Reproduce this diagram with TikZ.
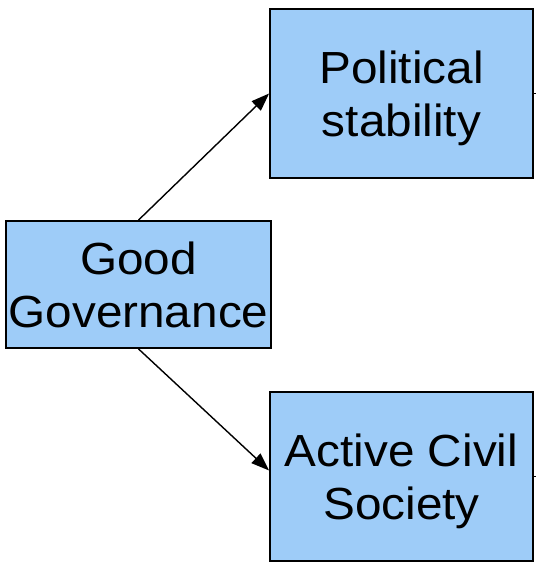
\documentclass[tikz,border=0pt]{standalone}
\usepackage{fontspec}
\setmainfont[FakeStretch=1.06]{Liberation Sans}
\usetikzlibrary{arrows.meta,calc}
\definecolor{boxblue}{RGB}{158,204,248}
\begin{document}
\begin{tikzpicture}[x=1pt,y=-1pt,
  box/.style={draw=black,line width=1.8pt,fill=boxblue,inner sep=0pt,align=center,
    text depth=0pt,font=\fontsize{45}{53}\selectfont},
  arr/.style={line width=1.4pt,-{Triangle[length=18pt,width=13pt]}},
  stub/.style={line width=1.4pt}]
\useasboundingbox (0,0) rectangle (536,562);
\node[box,minimum width=263pt,minimum height=169pt] (ps) at (401.5,93.5) {Political\\stability};
\node[box,minimum width=265pt,minimum height=127pt] (gg) at (138.5,284.5) {Good\\Governance};
\node[box,minimum width=263pt,minimum height=169pt] (acs) at (401.5,476.5) {Active Civil\\Society};
\draw[arr] (gg.north) -- (ps.west);
\draw[arr] (gg.south) -- ($(acs.west)+(0,-6)$);
\coordinate (e1) at (536,95);
\coordinate (e2) at (536,475);
\draw[stub] (ps.east) -- (ps.east -| e1);
\draw[stub] (acs.east) -- (acs.east -| e2);
\end{tikzpicture}
\end{document}
